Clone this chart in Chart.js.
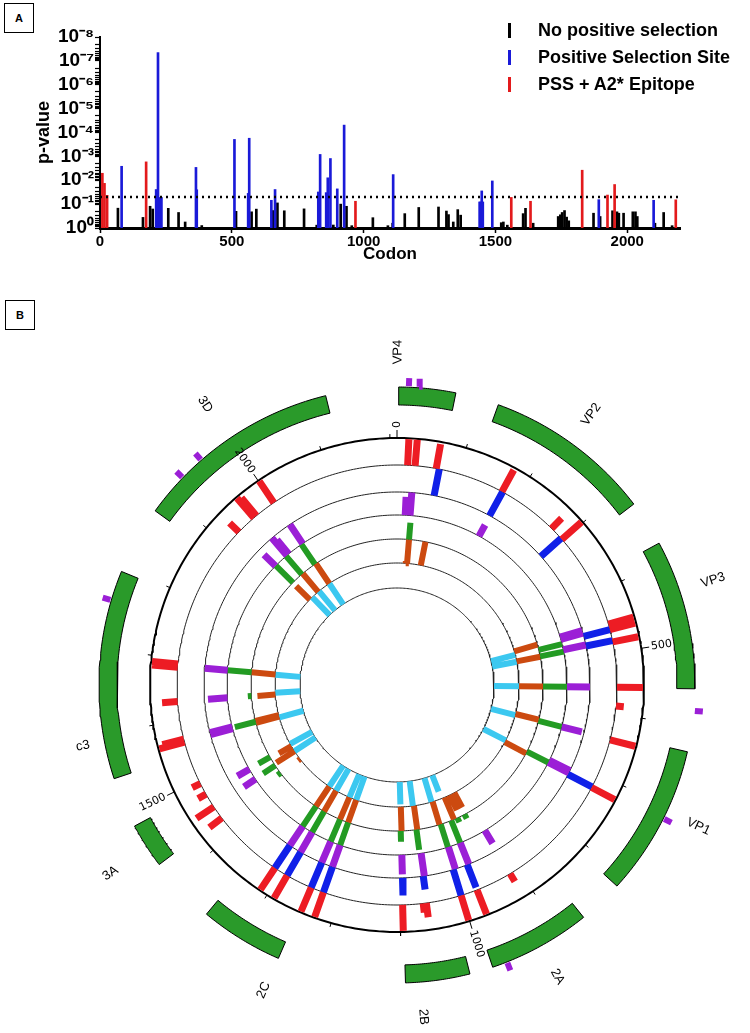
<!DOCTYPE html>
<html lang="en">
<head>
<meta charset="UTF-8">
<title>Selection sites along the polyprotein</title>
<script src="https://cdn.jsdelivr.net/npm/chart.js"></script>
<style>
  body { margin: 0; background: #fff; width: 750px; height: 1033px; position: relative; overflow: hidden; font-family: 'Liberation Sans', Arial, sans-serif; }
  .tag { position: absolute; width: 28px; height: 28px; border: 1px solid #000; font: bold 11px 'Liberation Sans', Arial, sans-serif; display: flex; align-items: center; justify-content: center; }
  #chartA { position: absolute; left: 0; top: 0; }
  #chartB { position: absolute; left: 0; top: 300px; }
  .legend { position: absolute; left: 508px; top: 17px; font: bold 18px 'Liberation Sans', Arial, sans-serif; }
  .legend div { height: 27px; display: flex; align-items: center; white-space: nowrap; }
  .legend i { display: inline-block; width: 3px; height: 15px; margin-right: 27px; }
</style>
</head>
<body>

<div class="tag" style="left:4px; top:3px;">A</div>
<div class="tag" style="left:5px; top:300px;">B</div>

<canvas id="chartA" width="750" height="290"></canvas>
<canvas id="chartB" width="750" height="733"></canvas>

<div class="legend">
  <div><i style="background:#000"></i>No positive selection</div>
  <div><i style="background:#1a1ad8"></i>Positive Selection Site</div>
  <div><i style="background:#e31a1c"></i>PSS + A2* Epitope</div>
</div>

<script>
  // ---------- panel A : p-value per codon ----------
  const blackCodons = [68, 163, 190, 200, 259, 298, 323, 386, 516, 575, 593, 655, 673, 699, 774, 822, 830, 885, 913, 935, 955,
                       1035, 1092, 1110, 1156, 1209, 1284, 1314, 1322, 1340, 1357, 1368, 1522, 1530, 1545, 1605, 1614, 1643,
                       1738, 1746, 1753, 1762, 1770, 1778, 1872, 1897, 1944, 1961, 1968, 1986, 2021, 2031, 2038, 2105, 2138, 2170];
  const blackP = [0.148, 0.36, 0.123, 0.16, 0.15, 0.224, 0.56, 0.79, 0.2, 0.21, 0.162, 0.186, 0.089, 0.19, 0.158, 0.76, 0.089, 0.75, 0.1, 0.123, 0.8,
                  0.37, 0.8, 0.63, 0.25, 0.138, 0.132, 0.195, 0.275, 0.56, 0.17, 0.29, 0.6, 0.56, 0.76, 0.25, 0.15, 0.63,
                  0.33, 0.28, 0.224, 0.186, 0.35, 0.5, 0.24, 0.33, 0.19, 0.21, 0.24, 0.24, 0.21, 0.21, 0.33, 0.63, 0.224, 0.8];

  const blueCodons = [82, 213, 220, 228, 233, 364, 367, 510, 562, 566, 650, 664, 828, 835, 858, 864, 874, 900, 926,
                      1112, 1440, 1444, 1448, 1452, 1488, 1892, 2100];
  const blueP = [0.0026, 0.0245, 4.5e-8, 0.0525, 0.0525, 0.0029, 0.025, 0.000195, 0.0355, 0.000174, 0.069, 0.0245, 0.031, 0.00083,
                 0.033, 0.0079, 0.00123, 0.023, 0.000049, 0.0058, 0.081, 0.081, 0.028, 0.081, 0.0107, 0.065, 0.069];

  const redCodons = [9, 17, 27, 175, 969, 1560, 1633, 1829, 1925, 1952, 2184];
  const redP = [0.0051, 0.0135, 0.0427, 0.0017, 0.0759, 0.0525, 0.0759, 0.0038, 0.0417, 0.0151, 0.066];

  const threshold = 0.05;
  const codonTicks = [0, 500, 1000, 1500, 2000];

  // ---------- panel B : circular map ----------
  const GENOME_LEN = 2210;
  const proteinNames = ['VP4', 'VP2', 'VP3', 'VP1', '2A', '2B', '2C', '3A', 'c3', '3D'];
  const proteinStart = [2, 122, 378, 632, 867, 1018, 1249, 1430, 1545, 1877];
  const proteinEnd = [70, 323, 557, 813, 990, 1095, 1349, 1484, 1795, 2125];
  const proteinLabelAt = [1, 219, 440, 707, 928, 1077, 1250, 1453, 1590, 1999];
  const mapTicks = [0, 500, 1000, 1500, 2000];

  const redSites = [17, 29, 63, 175, 274, 298, 454, 463, 483, 556, 586, 641, 723, 915, 974, 1001, 1058, 1063, 1096,
                    1225, 1246, 1289, 1312, 1429, 1451, 1475, 1494, 1565, 1570, 1631, 1686, 1691, 1928, 1961, 1966, 2001];
  const redHeights = [1, 1, 0.95, 0.95, 0.55, 1, 1, 1, 1, 1, 0.3, 1, 1, 0.35, 1, 1, 0.55, 0.35, 1,
                      1, 1, 1, 1, 0.6, 0.8, 0.35, 0.35, 1, 0.85, 0.6, 1, 1, 0.5, 1, 0.9, 1];

  const blueSites = [68, 176, 296, 463, 481, 722, 974, 1001, 1057, 1095, 1225, 1246, 1289, 1312];
  const blueHeights = [1, 1, 1, 1, 1, 1, 0.9, 1, 0.5, 0.65, 1, 1, 1, 1];

  const purpleSites = [17, 27, 177, 452, 457, 479, 556, 640, 714, 719, 914, 971, 997, 1055, 1095, 1225, 1246, 1289, 1312,
                       1451, 1475, 1566, 1570, 1631, 1688, 1930, 1962, 1967, 2003];
  const purpleHeights = [0.8, 1, 0.55, 1, 1, 1, 1, 0.9, 1, 1, 0.65, 1, 1, 1, 0.85, 1, 1, 1, 1,
                         0.6, 0.6, 1, 1, 0.85, 1, 0.7, 1, 0.8, 1];

  const greenSites = [29, 467, 483, 556, 640, 719, 936, 955, 971, 998, 1058, 1096, 1225, 1246, 1289, 1312,
                      1430, 1452, 1476, 1568, 1631, 1688, 1931, 1960, 2000];
  const greenHeights = [0.7, 1, 1, 1, 1, 1, 0.2, 0.2, 1, 1, 0.85, 0.45, 1, 1, 1, 1,
                        0.15, 0.6, 0.55, 0.9, 0.15, 1, 1, 1, 1];

  const orangeSites = [25, 29, 69, 454, 484, 556, 637, 724, 933, 948, 964, 1001, 1056, 1094, 1225, 1246, 1289, 1312,
                       1428, 1456, 1473, 1565, 1570, 1630, 1688, 1930, 1963, 2003];
  const orangeHeights = [0.1, 1, 1, 1, 1, 1, 1, 1, 0.7, 0.7, 1, 1, 1, 1, 1, 1, 1, 1,
                         0.1, 0.9, 0.6, 1, 1, 0.75, 1, 0.8, 1, 1];

  const cyanSites = [465, 485, 556, 640, 718, 974, 1004, 1059, 1095, 1225, 1246, 1289, 1312, 1456, 1480, 1563, 1635, 1687, 1940, 1966, 2003];
  const cyanHeights = [1, 1, 1, 1, 1, 0.7, 1, 1, 0.9, 1, 1, 1, 1, 1, 1, 1, 1, 1, 1, 1, 1];

  const outerSites = [14, 26, 583, 716, 972, 1759, 1928, 1958];

  // ---------- helpers ----------
  const SUP = { '-': '\u207B', '0': '\u2070', '1': '\u00B9', '2': '\u00B2', '3': '\u00B3', '4': '\u2074',
                '5': '\u2075', '6': '\u2076', '7': '\u2077', '8': '\u2078', '9': '\u2079' };
  const sup = n => String(n).split('').map(ch => SUP[ch]).join('');

  function polar(codon, r) {
    const a = codon / GENOME_LEN * 2 * Math.PI;
    return { x: r * Math.sin(a), y: r * Math.cos(a) };
  }
  const GAP = { x: null, y: null };

  function radialBars(sites, heights, r0, r1) {
    const pts = [];
    sites.forEach((c, i) => pts.push(polar(c, r0), polar(c, r0 + heights[i] * (r1 - r0)), GAP));
    return pts;
  }
  function circle(r) {
    const pts = [];
    for (let c = 0; c <= GENOME_LEN; c += 5) pts.push(polar(c, r));
    pts.push(polar(0, r));
    return pts;
  }
  function box(c0, c1, rIn, rOut) {
    const pts = [];
    for (let k = 0; k <= 30; k++) pts.push(polar(c0 + (c1 - c0) * k / 30, rOut));
    for (let k = 30; k >= 0; k--) pts.push(polar(c0 + (c1 - c0) * k / 30, rIn));
    pts.push(polar(c0, rOut));
    return pts;
  }
  function scaleTickMarks() {
    const pts = [];
    for (let c = 0; c < GENOME_LEN; c += 100) {
      pts.push(polar(c, 247), polar(c, c % 500 === 0 ? 255 : 251), GAP);
    }
    return pts;
  }

  // ---------- chart A ----------
  const floatBars = (codons, ps) => codons.map((c, i) => ({ x: c, y: [1, ps[i]] }));

  new Chart(document.getElementById('chartA'), {
    type: 'bar',
    data: {
      datasets: [
        { type: 'line', data: [{ x: 0, y: threshold }, { x: 2200, y: threshold }], borderColor: '#000',
          borderWidth: 2.5, borderDash: [2, 4], pointRadius: 0 },
        { data: floatBars(redCodons, redP), backgroundColor: '#e31a1c', barThickness: 2, grouped: false },
        { data: floatBars(blueCodons, blueP), backgroundColor: '#1a1ad8', barThickness: 2, grouped: false },
        { data: floatBars(blackCodons, blackP), backgroundColor: '#000', barThickness: 2, grouped: false }
      ]
    },
    options: {
      responsive: false,
      animation: false,
      events: [],
      layout: { padding: { top: 37, right: 70, left: 0, bottom: 0 } },
      plugins: { legend: { display: false }, tooltip: { enabled: false } },
      scales: {
        x: {
          type: 'linear', min: 0, max: 2200, offset: false,
          afterFit: s => { s.height = 62; },
          afterBuildTicks: s => { s.ticks = codonTicks.map(v => ({ value: v })); },
          grid: { drawOnChartArea: false, offset: false, tickLength: 5, tickColor: '#000', tickWidth: 1.5 },
          border: { color: '#000', width: 3 },
          ticks: { color: '#000', padding: 0, callback: v => String(v),
                   font: { family: "'Liberation Sans', Arial", weight: 'bold', size: 15 } },
          title: { display: true, text: 'Codon', color: '#000', padding: { top: 0, bottom: 25 },
                   font: { family: "'Liberation Sans', Arial", weight: 'bold', size: 17 } }
        },
        y: {
          type: 'logarithmic', min: 1e-8, max: 1, reverse: true,
          afterFit: s => { s.width = 100; },
          afterBuildTicks: s => {
            const t = [];
            for (let e = -8; e < 0; e++) for (let k = 1; k < 10; k++) t.push({ value: k * Math.pow(10, e) });
            t.push({ value: 1 });
            s.ticks = t;
          },
          grid: { drawOnChartArea: false, tickLength: 5, tickColor: '#000', tickWidth: 1.2 },
          border: { color: '#000', width: 2 },
          ticks: {
            autoSkip: false, color: '#000', padding: 1,
            font: { family: "'Liberation Sans', Arial", weight: 'bold', size: 19 },
            callback: v => {
              const e = Math.log10(v);
              return Math.abs(e - Math.round(e)) < 1e-6 ? '10' + sup(Math.round(e)) : '';
            }
          },
          title: { display: true, text: 'p-value', color: '#000', padding: { top: 33, bottom: 0 },
                   font: { family: "'Liberation Sans', Arial", weight: 'bold', size: 18 } }
        }
      }
    }
  });

  // ---------- chart B ----------
  function drawRadialText(ctx, px, py, codon, text, align) {
    const a = codon / GENOME_LEN * 2 * Math.PI;
    let rot = a - Math.PI / 2;
    let textAlign = align || 'left';
    if (a > Math.PI + 0.01) {
      rot += Math.PI;
      if (!align) textAlign = 'right';
    }
    ctx.save();
    ctx.translate(px, py);
    ctx.rotate(rot);
    ctx.textAlign = textAlign;
    ctx.textBaseline = 'middle';
    ctx.fillText(text, 0, 0);
    ctx.restore();
  }

  const labelRadius = { c3: 320, '3A': 343, '3D': 340 };

  const ringLabels = {
    id: 'ringLabels',
    afterDatasetsDraw(chart) {
      const { ctx, scales: { x, y } } = chart;
      const px = (c, r) => { const p = polar(c, r); return [x.getPixelForValue(p.x), y.getPixelForValue(p.y)]; };
      ctx.save();
      ctx.fillStyle = '#000';
      ctx.font = "11px 'DejaVu Sans'";
      mapTicks.forEach(c => { const [u, v] = px(c, 257); drawRadialText(ctx, u, v, c, String(c)); });
      ctx.font = "13px 'Liberation Sans'";
      proteinNames.forEach((n, i) => {
        const at = proteinLabelAt[i];
        const [u, v] = px(at, labelRadius[n] || 333);
        drawRadialText(ctx, u, v, at, n, 'center');
      });
      ctx.restore();
    }
  };

  const lineSet = (data, color, width, extra) => Object.assign({
    data, showLine: true, pointRadius: 0, borderColor: color, borderWidth: width, borderCapStyle: 'butt', spanGaps: false
  }, extra || {});

  const tracks = [
    [redSites, redHeights, 220, 246, '#ed1c24', 7],
    [blueSites, blueHeights, 193, 220, '#1020e8', 7],
    [purpleSites, purpleHeights, 170, 193, '#9b1fd6', 7],
    [greenSites, greenHeights, 146, 170, '#239b23', 6],
    [orangeSites, orangeHeights, 122, 146, '#cc4a10', 6],
    [cyanSites, cyanHeights, 97, 122, '#3cc8f0', 6]
  ];

  const bDatasets = tracks.map(t => lineSet(radialBars(t[0], t[1], t[2], t[3]), t[4], t[5]));
  bDatasets.push(lineSet(radialBars(outerSites, outerSites.map(() => 1), 299, 307), '#9b1fd6', 6));
  proteinNames.forEach((n, i) => {
    bDatasets.push(lineSet(box(proteinStart[i], proteinEnd[i], 280, 298), '#000', 1,
      { fill: 'shape', backgroundColor: '#2a9a2a' }));
  });
  bDatasets.push(lineSet(scaleTickMarks(), '#000', 1));
  bDatasets.push(lineSet(circle(247), '#000', 2));
  [220, 193, 170, 146, 122, 97].forEach(r => bDatasets.push(lineSet(circle(r), '#222', 1)));

  new Chart(document.getElementById('chartB'), {
    type: 'scatter',
    data: { datasets: bDatasets },
    options: {
      responsive: false,
      animation: false,
      events: [],
      layout: { padding: 0 },
      plugins: { legend: { display: false }, tooltip: { enabled: false } },
      scales: {
        x: { type: 'linear', min: -397, max: 353, display: false },
        y: { type: 'linear', min: -348, max: 385, display: false }
      }
    },
    plugins: [ringLabels]
  });
</script>
</body>
</html>
